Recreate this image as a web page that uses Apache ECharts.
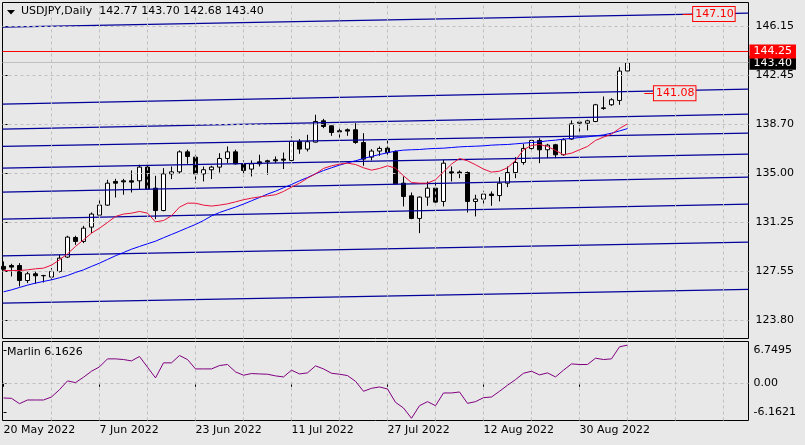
<!DOCTYPE html>
<html>
<head>
<meta charset="utf-8">
<script src="https://cdn.jsdelivr.net/npm/echarts@6/dist/echarts.min.js"></script>
<style>
html,body{margin:0;padding:0;background:#e8e8e8;}
#chart{width:805px;height:445px;}
</style>
</head>
<body>
<div id="chart"></div>
<script>
// ---------------- DATA ----------------
const dates = [
'2022-05-20','2022-05-23','2022-05-24','2022-05-25','2022-05-26','2022-05-27','2022-05-30','2022-05-31',
'2022-06-01','2022-06-02','2022-06-03','2022-06-06','2022-06-07','2022-06-08','2022-06-09','2022-06-10',
'2022-06-13','2022-06-14','2022-06-15','2022-06-16','2022-06-17','2022-06-20','2022-06-21','2022-06-22',
'2022-06-23','2022-06-24','2022-06-27','2022-06-28','2022-06-29','2022-06-30',
'2022-07-01','2022-07-04','2022-07-05','2022-07-06','2022-07-07','2022-07-08','2022-07-11','2022-07-12',
'2022-07-13','2022-07-14','2022-07-15','2022-07-18','2022-07-19','2022-07-20','2022-07-21','2022-07-22',
'2022-07-25','2022-07-26','2022-07-27','2022-07-28','2022-07-29',
'2022-08-01','2022-08-02','2022-08-03','2022-08-04','2022-08-05','2022-08-08','2022-08-09','2022-08-10',
'2022-08-11','2022-08-12','2022-08-15','2022-08-16','2022-08-17','2022-08-18','2022-08-19','2022-08-22',
'2022-08-23','2022-08-24','2022-08-25','2022-08-26','2022-08-29','2022-08-30','2022-08-31',
'2022-09-01','2022-09-02','2022-09-05','2022-09-06','2022-09-07'
];
const opens = [
127.91,127.98,127.98,126.84,127.35,127.22,127.10,127.53,128.62,130.11,
129.81,130.90,131.81,132.57,134.37,134.42,134.42,134.42,135.46,133.86,
132.16,134.95,135.10,136.62,136.22,134.95,135.26,135.46,136.12,136.62,
135.71,135.31,135.86,135.94,136.02,136.07,135.97,137.41,136.83,137.36,
138.98,138.60,138.22,138.30,138.30,137.33,136.22,136.68,136.90,136.65,
134.24,133.28,131.56,133.18,133.86,132.85,135.10,135.08,135.05,132.85,
133.03,133.41,133.30,134.24,135.05,135.81,136.88,137.49,136.78,137.16,
136.40,137.59,138.80,138.80,138.93,139.92,140.20,140.53,142.77
];
const highs = [
128.29,128.11,128.16,127.53,127.53,127.27,127.78,128.79,130.24,130.24,
131.00,132.01,132.98,134.50,134.57,134.57,135.21,135.64,135.64,134.80,
135.38,135.51,136.73,136.78,136.40,135.51,135.56,136.52,137.03,136.78,
135.97,135.97,136.40,136.02,136.27,136.57,137.79,137.59,137.92,139.44,
139.13,138.62,138.40,138.40,138.80,138.04,136.83,137.03,137.49,136.73,
134.75,133.53,133.23,134.37,134.37,136.02,135.51,135.21,135.13,133.36,
133.66,133.61,134.70,135.51,136.22,137.23,137.66,137.66,137.23,137.23,
137.66,139.01,139.01,139.06,140.27,140.83,140.70,143.06,143.70
];
const lows = [
127.60,127.15,126.39,126.64,126.59,126.69,126.89,127.45,128.55,129.55,
129.68,130.44,131.78,132.52,133.15,133.36,133.53,133.79,133.74,131.51,
132.10,134.55,134.95,135.71,134.24,134.37,134.55,135.05,135.76,135.66,
134.75,134.75,135.51,134.88,135.76,135.31,135.89,136.47,136.65,137.33,
138.42,137.84,137.59,137.84,137.23,135.56,135.97,136.32,136.40,134.14,
132.47,131.50,130.44,132.52,132.72,132.47,134.37,134.62,132.01,131.71,
132.67,132.52,132.85,133.94,134.62,135.64,136.73,135.76,136.14,136.14,
136.32,137.54,137.99,138.25,138.88,139.82,140.12,140.20,142.68
];
const closes = [
127.70,127.86,126.84,127.35,127.20,127.20,127.53,128.54,130.14,129.81,
130.82,131.89,132.57,134.24,134.24,134.34,134.32,135.46,133.79,132.16,
134.95,135.10,136.62,136.27,134.95,135.26,135.46,136.12,136.62,135.71,
135.21,135.71,135.71,135.86,135.94,135.99,137.41,136.83,137.39,138.93,
138.55,138.09,138.14,138.20,137.33,136.07,136.68,136.88,136.57,134.19,
133.23,131.56,133.18,133.86,132.80,135.76,135.00,135.00,132.85,133.03,
133.41,133.30,134.24,135.05,135.81,136.88,137.49,136.78,137.13,136.40,
137.54,138.75,138.88,138.98,140.20,139.97,140.58,142.76,143.40
];
const maFast = [
127.60,127.60,127.60,127.65,127.73,127.78,128.01,128.41,128.87,129.43,
129.93,130.44,130.82,131.25,131.71,131.89,131.96,132.09,131.96,131.30,
131.40,131.76,132.42,132.72,132.72,132.57,132.50,132.57,132.67,132.82,
132.98,133.10,133.20,133.28,133.36,133.61,133.94,134.24,134.62,134.95,
135.36,135.56,135.69,135.76,135.66,135.41,135.23,135.36,135.56,135.38,
134.80,134.29,134.24,134.24,134.50,135.10,135.69,136.12,135.94,135.64,
135.31,135.08,135.15,135.41,135.97,136.78,137.11,137.18,137.03,136.73,
136.40,136.52,136.78,137.03,137.49,137.74,137.97,138.40,138.75
];
const maSlow = [
125.98,126.13,126.31,126.49,126.64,126.77,126.89,127.05,127.22,127.45,
127.65,127.91,128.16,128.44,128.72,128.97,129.22,129.43,129.63,129.83,
130.09,130.34,130.59,130.85,131.10,131.40,131.75,132.01,132.22,132.42,
132.65,132.90,133.15,133.41,133.63,133.89,134.14,134.42,134.67,134.95,
135.20,135.41,135.61,135.79,135.94,136.12,136.27,136.42,136.55,136.68,
136.75,136.78,136.80,136.85,136.88,136.90,136.95,137.00,137.03,137.05,
137.08,137.13,137.16,137.18,137.23,137.28,137.33,137.38,137.46,137.51,
137.59,137.64,137.71,137.76,137.84,137.91,138.04,138.21,138.39
];
const marlin = [
-2.48,-2.54,-3.41,-2.81,-2.81,-2.81,-2.32,-1.12,0.31,0.03,
0.91,1.89,2.60,3.91,3.91,3.80,3.58,4.30,2.55,0.80,
3.26,3.26,4.46,3.80,2.27,2.27,2.27,2.82,2.99,1.78,
1.24,1.51,1.45,1.40,1.13,0.96,2.06,1.45,1.62,2.77,
2.27,1.56,1.40,1.18,0.25,-1.39,-0.90,-0.68,-1.01,-3.19,
-4.12,-5.80,-3.74,-3.08,-3.74,-1.66,-1.66,-1.50,-3.36,-3.08,
-2.43,-2.32,-1.39,-0.40,0.52,1.56,1.89,1.29,1.62,0.96,
2.06,3.09,2.99,2.99,4.02,3.80,3.91,5.88,6.16
];
// channel (trend) lines: price at left edge and at right edge
const channelLeft  = [146.10,140.25,138.35,137.03,135.39,133.56,131.51,128.72,125.12];
const channelRight = [147.17,141.39,139.49,138.05,136.45,134.70,132.65,129.76,126.16];
const priceTicks = [146.15,142.45,138.70,135.00,131.25,127.55,123.80];
const marlinTicks = [6.7495,0,-6.1621];
const marlinTickLabels = ['6.7495','0.00','-6.1621'];
const dateTickIdx = [0,12,24,36,48,60,72];
const levelPrice = 144.25;
const bidPrice = 143.40;
const priceLabels = [147.10,141.08];
const headerSymbol = 'USDJPY', headerPeriod = 'Daily';
const headerOHLC = ['142.77','143.70','142.68','143.40'];
const marlinName = 'Marlin', marlinValue = '6.1626';

// ---------------- LAYOUT ----------------
const G1 = {left:2.5, top:2.5, width:746, height:336};
const G2 = {left:2.5, top:341.5, width:746, height:79};
const xMin = -0.125, xMax = xMin + G1.width/8;
const yMax = 147.975, yMin = yMax - G1.height/13.154;
const mMin = marlinTicks[2], mMax = marlinTicks[0];
const inset = 8.5; // px inset of min/max labels in lower pane
const mScale = (mMax - mMin)/G2.height;
const marlinLabelPos = [mMax - inset*mScale, 0, mMin + inset*mScale];
const vGrid = []; for (let v = 6; v < xMax; v += 6) vGrid.push(v);
const labelAnchors = [{x:88.8, seg:[84.9,86.3]}, {x:83.9, seg:[80.1,81.35]}];

const BG = '#e8e8e8', GRIDC = '#c0c0c0', NAVY = '#00009a';
const FONT = 'DejaVu Sans';
const M = ['Jan','Feb','Mar','Apr','May','Jun','Jul','Aug','Sep','Oct','Nov','Dec'];
const fmtDate = d => parseInt(d.slice(8),10)+' '+M[parseInt(d.slice(5,7),10)-1]+' '+d.slice(0,4);

const chart = echarts.init(document.getElementById('chart'), null, {renderer:'canvas'});

const gridLineStyle = {color:GRIDC, type:[3,3], width:1};
const series = [];
// main pane grid lines
series.push({
  type:'line', xAxisIndex:0, yAxisIndex:0, data:[], z:1, silent:true,
  markLine:{silent:true, symbol:['none','none'], animation:false, label:{show:false},
    lineStyle:gridLineStyle, emphasis:{disabled:true},
    data:[...vGrid.map(v=>({xAxis:v})), ...priceTicks.map(p=>({yAxis:p}))]}
});
// lower pane grid lines
series.push({
  type:'line', xAxisIndex:1, yAxisIndex:1, data:[], z:1, silent:true,
  markLine:{silent:true, symbol:['none','none'], animation:false, label:{show:false},
    lineStyle:gridLineStyle, emphasis:{disabled:true},
    data:[...vGrid.map(v=>({xAxis:v})), {yAxis:0}]}
});
// bid line + level line
series.push({
  type:'line', xAxisIndex:0, yAxisIndex:0, data:[], z:2, silent:true,
  markLine:{silent:true, symbol:['none','none'], animation:false, emphasis:{disabled:true},
    data:[{yAxis:bidPrice, lineStyle:{color:'#c0c0c0', type:'solid', width:1},
           label:{show:true, position:'end', distance:1, formatter:bidPrice.toFixed(2),
             color:'#ffffff', backgroundColor:'#000000', padding:[1,4,0,4],
             fontFamily:FONT, fontSize:11, lineHeight:13}}]}
});
series.push({
  type:'line', xAxisIndex:0, yAxisIndex:0, data:[], z:6, silent:true,
  markLine:{silent:true, symbol:['none','none'], animation:false, emphasis:{disabled:true},
    data:[{yAxis:levelPrice, lineStyle:{color:'#ff0000', type:'solid', width:1},
           label:{show:true, position:'end', distance:1, formatter:levelPrice.toFixed(2),
             color:'#ffffff', backgroundColor:'#ff0000', padding:[1,4,0,4],
             fontFamily:FONT, fontSize:11, lineHeight:13}}]}
});
// candles
series.push({
  type:'candlestick', xAxisIndex:0, yAxisIndex:0, z:3, barWidth:4,
  data: dates.map((d,i)=>[i, opens[i], closes[i], lows[i], highs[i]]),
  encode:{x:0, y:[1,2,3,4]},
  itemStyle:{color:'#ffffff', color0:'#000000', borderColor:'#000000', borderColor0:'#000000', borderColorDoji:'#000000', borderWidth:1},
  silent:true
});
// channel lines
channelLeft.forEach((p,k)=>{
  series.push({type:'line', xAxisIndex:0, yAxisIndex:0, z:4, symbol:'none', silent:true,
    data:[[xMin,p],[xMax,channelRight[k]]], lineStyle:{color:NAVY, width:1.2}});
});
// moving averages
series.push({type:'line', xAxisIndex:0, yAxisIndex:0, z:5, symbol:'none', silent:true,
  data:maSlow.map((v,i)=>[i,v]), lineStyle:{color:'#0000ff', width:1}});
series.push({type:'line', xAxisIndex:0, yAxisIndex:0, z:5, symbol:'none', silent:true,
  data:maFast.map((v,i)=>[i,v]), lineStyle:{color:'#e8103a', width:1}});
// price label objects
priceLabels.forEach((p,k)=>{
  const a = labelAnchors[k];
  series.push({type:'line', xAxisIndex:0, yAxisIndex:0, data:[], z:7, silent:true,
    markLine:{silent:true, symbol:['none','none'], animation:false, label:{show:false},
      emphasis:{disabled:true}, lineStyle:{color:'#ff0000', type:'solid', width:1},
      data:[[{coord:[a.seg[0],p]},{coord:[a.seg[1],p]}]]},
    markPoint:{silent:true, animation:false, symbol:'rect', symbolSize:1,
      itemStyle:{color:'transparent'},
      data:[{coord:[a.x,p]}],
      label:{show:true, position:'inside', formatter:p.toFixed(2), color:'#ff0000',
        borderColor:'#ff0000', borderWidth:1, backgroundColor:BG, padding:[1,1,0,2],
        fontFamily:FONT, fontSize:11, lineHeight:13}}
  });
});
// Marlin oscillator
series.push({type:'line', xAxisIndex:1, yAxisIndex:1, z:5, symbol:'none', silent:true,
  data:marlin.map((v,i)=>[i,v]), lineStyle:{color:'#800080', width:1}});

const option = {
  animation:false,
  backgroundColor:BG,
  textStyle:{fontFamily:FONT, fontSize:11, color:'#000'},
  title:[
    {text: headerSymbol+','+headerPeriod+'  '+headerOHLC.join(' '), left:21, top:6, padding:0,
     textStyle:{fontFamily:FONT, fontSize:11, fontWeight:'normal', color:'#000'}},
    {text: marlinName+' '+marlinValue, left:7, top:347, padding:0,
     textStyle:{fontFamily:FONT, fontSize:11, fontWeight:'normal', color:'#000'}}
  ],
  graphic:[{type:'polygon', shape:{points:[[7,10],[15,10],[11,14.5]]}, style:{fill:'#000'}, silent:true}],
  grid:[
    Object.assign({show:true, borderColor:'#000', borderWidth:1, backgroundColor:'transparent'}, G1),
    Object.assign({show:true, borderColor:'#000', borderWidth:1, backgroundColor:'transparent'}, G2)
  ],
  xAxis:[
    {type:'value', gridIndex:0, min:xMin, max:xMax, axisLine:{show:false}, axisTick:{show:false},
     axisLabel:{show:false}, splitLine:{show:false}},
    {type:'value', gridIndex:1, min:xMin, max:xMax, axisLine:{show:false},
     axisTick:{show:true, customValues:dateTickIdx, length:4, lineStyle:{color:'#000'}},
     axisLabel:{show:true, customValues:dateTickIdx, formatter:v=>fmtDate(dates[Math.round(v)]),
       align:'left', margin:4, fontFamily:FONT, fontSize:11, color:'#000'},
     splitLine:{show:false}}
  ],
  yAxis:[
    {type:'value', gridIndex:0, position:'right', min:yMin, max:yMax, axisLine:{show:false},
     axisTick:{show:true, customValues:priceTicks, length:4, lineStyle:{color:'#000'}},
     axisLabel:{show:true, customValues:priceTicks, formatter:v=>v.toFixed(2), margin:7,
       fontFamily:FONT, fontSize:11, color:'#000'},
     splitLine:{show:false}},
    {type:'value', gridIndex:1, position:'right', min:mMin, max:mMax, axisLine:{show:false},
     axisTick:{show:true, customValues:marlinLabelPos, length:3, lineStyle:{color:'#000'}},
     axisLabel:{show:true, customValues:marlinLabelPos,
       formatter:v=>{let k=0,b=1e9;marlinLabelPos.forEach((q,j)=>{if(Math.abs(q-v)<b){b=Math.abs(q-v);k=j;}});return marlinTickLabels[k];},
       margin:5, fontFamily:FONT, fontSize:11, color:'#000'},
     splitLine:{show:false}}
  ],
  series: series
};
chart.setOption(option);
</script>
</body>
</html>
